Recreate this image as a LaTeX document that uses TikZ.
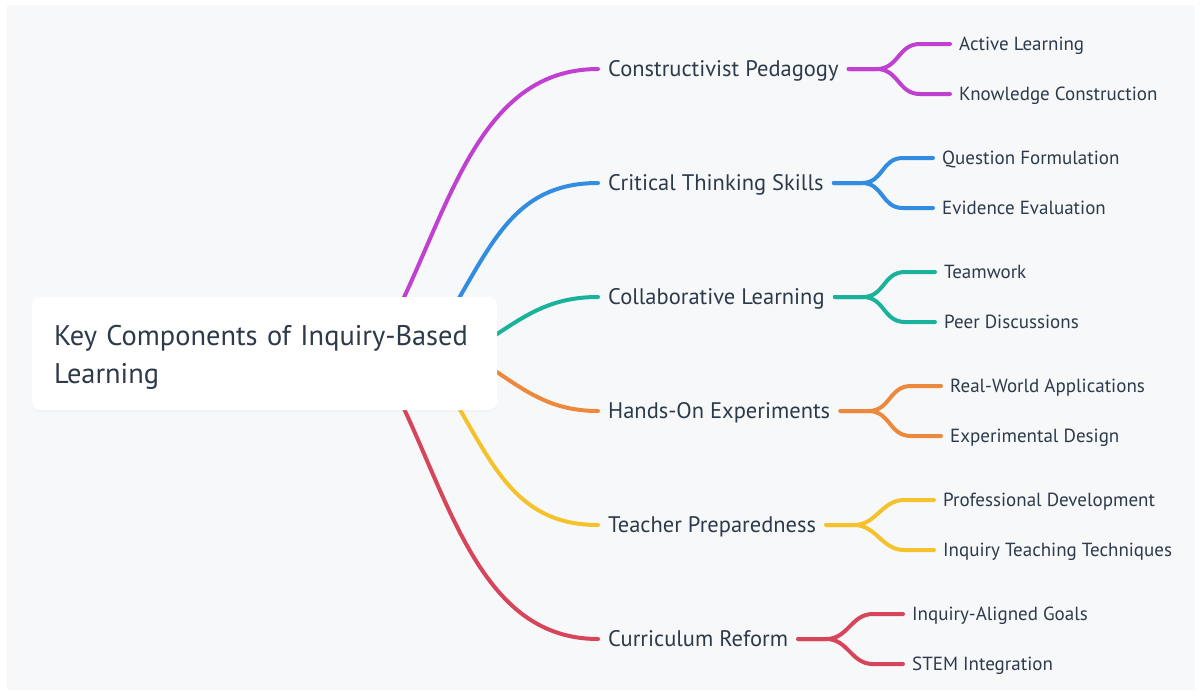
\documentclass[tikz,border=0pt]{standalone}
\usepackage{fontspec}
\setmainfont{PT Sans}
\usetikzlibrary{calc,shadows}
\definecolor{bgc}{HTML}{F7F8FA}
\definecolor{txt}{HTML}{2D3A4A}
\definecolor{cmag}{HTML}{C040D0}
\definecolor{cblu}{HTML}{318CE2}
\definecolor{ctea}{HTML}{1AB29A}
\definecolor{cora}{HTML}{EC893C}
\definecolor{cyel}{HTML}{F6C22C}
\definecolor{cred}{HTML}{D6455A}
\tikzset{
  rootbox/.style={draw=none, fill=white, rounded corners=8pt, minimum width=465pt, minimum height=113pt,
    text width=421pt, align=left, inner xsep=22pt, text=txt, font=\fontsize{28.4}{38}\selectfont,
    drop shadow={shadow xshift=0pt, shadow yshift=-2pt, opacity=0.04}},
  mainlbl/.style={anchor=west, inner xsep=10pt, inner ysep=0pt, text height=15.7pt, text depth=0pt,
    text=txt, font=\fontsize{22.5}{26}\selectfont},
  sublbl/.style={anchor=west, inner xsep=9pt, inner ysep=0pt, text height=13pt, text depth=0pt,
    text=txt, font=\fontsize{19}{22}\selectfont},
  conn/.style={line width=4pt, line cap=round},
}
\begin{document}
\begin{tikzpicture}[x=1pt,y=-1pt]
\useasboundingbox (0,0) rectangle (1203,697);
\fill[white] (0,0) rectangle (1203,697);
\fill[bgc] (7,5) rectangle (1195,690);

% main labels
\node[mainlbl] (cp) at (598,69) {Constructivist Pedagogy};
\node[mainlbl] (ct) at (598,183) {Critical Thinking Skills};
\node[mainlbl] (cl) at (598,297) {Collaborative Learning};
\node[mainlbl] (he) at (598,411) {Hands-On Experiments};
\node[mainlbl] (tp) at (598,525) {Teacher Preparedness};
\node[mainlbl] (cr) at (598,639) {Curriculum Reform};

% sub labels
\node[sublbl] (al) at (950,44) {Active Learning};
\node[sublbl] (kc) at (950,94) {Knowledge Construction};
\node[sublbl] (qf) at (933,158) {Question Formulation};
\node[sublbl] (ee) at (933,208) {Evidence Evaluation};
\node[sublbl] (tw) at (935,272) {Teamwork};
\node[sublbl] (pd) at (935,322) {Peer Discussions};
\node[sublbl] (rw) at (941,386) {Real-World Applications};
\node[sublbl] (ed) at (941,436) {Experimental Design};
\node[sublbl] (pr) at (934,500) {Professional Development};
\node[sublbl] (it) at (934,550) {Inquiry Teaching Techniques};
\node[sublbl] (ia) at (903,614) {Inquiry-Aligned Goals};
\node[sublbl] (si) at (903,664) {STEM Integration};

% start points of main branches (hidden under root box)
\coordinate (s1) at (395,316);
\coordinate (s2) at (440,330);
\coordinate (s3) at (480,345);
\coordinate (s4) at (480,361);
\coordinate (s5) at (440,376);
\coordinate (s6) at (395,390);

\draw[conn, cmag] (s1) .. controls (450,206) and +(-118,0) .. (cp.west);
\draw[conn, cblu] (s2) .. controls (490,250) and +(-88,0) .. (ct.west);
\draw[conn, ctea] (s3) .. controls (520,320) and +(-53,0) .. (cl.west);
\draw[conn, cora] (s4) .. controls (520,386) and +(-53,0) .. (he.west);
\draw[conn, cyel] (s5) .. controls (490,456) and +(-88,0) .. (tp.west);
\draw[conn, cred] (s6) .. controls (450,500) and +(-118,0) .. (cr.west);

% sub branches
\foreach \p/\a/\b/\c in {cp/al/kc/cmag, ct/qf/ee/cblu, cl/tw/pd/ctea, he/rw/ed/cora, tp/pr/it/cyel, cr/ia/si/cred}{
  \draw[conn, \c] (\p.east) -- ++(28,0) .. controls +(22,0) and +(-22,0) .. ($(\a.west)+(-30,0)$) -- (\a.west);
  \draw[conn, \c] (\p.east) -- ++(28,0) .. controls +(22,0) and +(-22,0) .. ($(\b.west)+(-30,0)$) -- (\b.west);
}

% root
\node[rootbox] (root) at (264.5,353.5) {\rule{0pt}{28.5pt}Key Components of Inquiry-Based\\Learning};
\end{tikzpicture}
\end{document}
